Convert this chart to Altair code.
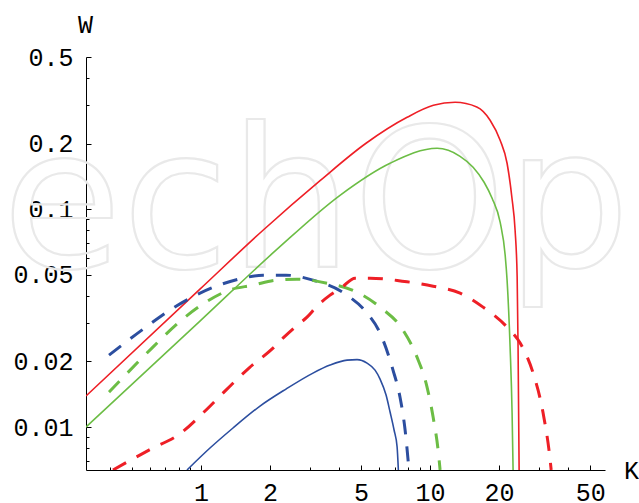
import altair as alt
import pandas as pd

# ---- axis ticks ----
x_major = [1, 2, 5, 10, 20, 50]
x_ticks = [0.4, 0.5, 0.6, 0.7, 0.8, 0.9, 1, 2, 3, 4, 5, 6, 7, 8, 9, 10, 20, 30, 40, 50]
y_major = [0.01, 0.02, 0.05, 0.1, 0.2, 0.5]
y_ticks = [0.007, 0.008, 0.009, 0.01, 0.02, 0.03, 0.04, 0.05, 0.06, 0.07, 0.08, 0.09,
           0.1, 0.2, 0.3, 0.4, 0.5]
x_domain = [0.315, 58]
y_domain = [0.00635, 0.5]

# ---- series (K, W) ----
red_solid_K = [0.315, 0.990, 1.866, 3.310, 5.254, 7.94, 10.34, 12.86, 15.99, 18.28,
               20.22, 21.68, 22.74, 23.50, 23.99, 24.21, 24.47]
red_solid_W = [0.01388, 0.04295, 0.0801, 0.1353, 0.2009, 0.2643, 0.2999, 0.3097,
               0.2946, 0.2561, 0.2073, 0.1626, 0.1138, 0.0801, 0.0488, 0.02328, 0.00635]

green_solid_K = [0.315, 0.990, 2.126, 4.045, 6.69, 10.73, 13.52, 15.41, 17.21, 18.65, 20.22,
                 21.27, 21.68, 22.35, 22.80, 23.03]
green_solid_W = [0.0100, 0.03063, 0.06485, 0.1159, 0.1626, 0.1905, 0.1750, 0.1559, 0.1330,
                 0.1123, 0.0872, 0.0615, 0.04725, 0.02328, 0.01159, 0.00635]

blue_solid_K = [0.869, 1.095, 1.380, 1.810, 2.350, 3.083, 3.660, 4.342, 4.80, 5.31, 5.752,
                6.05, 6.426, 6.69, 6.964, 7.18, 7.27]
blue_solid_W = [0.00635, 0.00801, 0.00990, 0.01248, 0.01494, 0.01769, 0.01925, 0.02029,
                0.02040, 0.01966, 0.01826, 0.01661, 0.01402, 0.01172, 0.00969, 0.00810, 0.00635]

blue_dash_K = [0.397, 0.575, 0.755, 0.951, 1.198, 1.525, 1.866, 2.350, 3.083, 4.342, 5.31,
               6.05, 6.89, 7.39, 7.78, 8.09]
blue_dash_W = [0.0214, 0.02875, 0.03515, 0.04032, 0.04481, 0.04826, 0.04981, 0.04981, 0.04725,
               0.04032, 0.03334, 0.02699, 0.01826, 0.01373, 0.00969, 0.00635]

green_dash_K = [0.397, 0.617, 0.802, 1.051, 1.325, 1.687, 2.126, 2.625, 3.55, 4.80, 6.05, 7.62,
                8.77, 9.70, 10.31, 10.84, 11.06]
green_dash_W = [0.01447, 0.02328, 0.03031, 0.03745, 0.0425, 0.04481, 0.04725, 0.04775, 0.04577,
                0.04162, 0.03553, 0.02786, 0.02095, 0.01526, 0.01111, 0.00784, 0.00635]

red_dash_K = [0.413, 0.593, 0.818, 1.031, 1.286, 1.620, 2.063, 2.304, 2.574, 2.903, 3.243, 3.660,
              4.128, 4.705, 5.47, 6.49, 7.55, 8.77, 10.31, 13.52, 17.03, 21.68, 24.72, 28.17,
              31.14, 33.42, 33.77]
red_dash_W = [0.00635, 0.00784, 0.00939, 0.01172, 0.01478, 0.01865, 0.02303, 0.02587, 0.02875,
              0.03196, 0.03628, 0.04032, 0.04387, 0.04826, 0.04826, 0.04775, 0.04675, 0.04577,
              0.04434, 0.0412, 0.03553, 0.02875, 0.02429, 0.01769, 0.01159, 0.00706, 0.00635]

solid_names = ["red solid", "green solid", "blue solid"]
dashed_names = ["blue dashed", "green dashed", "red dashed"]
solid_colors = ["#ee1f26", "#6cbd45", "#2c4e9f"]
dashed_colors = ["#2c4e9f", "#6cbd45", "#ee1f26"]


def make_df(names, data):
    rows = []
    for s, (ks, ws) in zip(names, data):
        for i, (k, w) in enumerate(zip(ks, ws)):
            rows.append({"series": s, "i": i, "K": k, "W": w})
    return pd.DataFrame(rows)


solid_df = make_df(solid_names, [(red_solid_K, red_solid_W), (green_solid_K, green_solid_W),
                                 (blue_solid_K, blue_solid_W)])
dashed_df = make_df(dashed_names, [(blue_dash_K, blue_dash_W), (green_dash_K, green_dash_W),
                                   (red_dash_K, red_dash_W)])

watermark_text = "echOp"

PW, PH = 519, 413
FONT = "Liberation Mono"
FS = 25

xs = alt.Scale(type="log", domain=x_domain, nice=False)
ys = alt.Scale(type="log", domain=y_domain, nice=False)

wm = alt.Chart(pd.DataFrame({"t": [watermark_text]})).mark_text(
    font="DejaVu Sans", fontSize=195, align="left", baseline="alphabetic",
    fillOpacity=0, stroke="#e9e9e9", strokeWidth=2.2
).encode(text="t:N", x=alt.value(-84), y=alt.value(210))

solid = alt.Chart(solid_df).mark_line(
    clip=True, interpolate="monotone", strokeWidth=1.6
).encode(
    x=alt.X("K:Q", scale=xs, axis=alt.Axis(
        orient="bottom", values=x_major, format="~g", ticks=False, tickSize=0, grid=False,
        domainColor="black", domainWidth=1, labelFont=FONT, labelFontSize=FS,
        labelColor="black", labelPadding=10, labelFlush=False, labelOverlap=False,
        title="K", titleFont=FONT, titleFontSize=FS, titleFontWeight="normal",
        titleColor="black", titleX=545, titleY=0, titleAlign="center",
        titleBaseline="middle")),
    y=alt.Y("W:Q", scale=ys, axis=alt.Axis(
        orient="left", values=y_major, format="~g", ticks=False, tickSize=0, grid=False,
        domainColor="black", domainWidth=1, labelFont=FONT, labelFontSize=FS,
        labelColor="black", labelPadding=13, labelFlush=False, labelOverlap=False,
        title="W", titleFont=FONT, titleFontSize=FS, titleFontWeight="normal",
        titleColor="black", titleAngle=0, titleX=-1, titleY=-33, titleAlign="center",
        titleBaseline="middle")),
    color=alt.Color("series:N", scale=alt.Scale(domain=solid_names, range=solid_colors),
                    legend=None),
    order="i:Q",
)

dashed = alt.Chart(dashed_df).mark_line(
    clip=True, interpolate="monotone", strokeWidth=3, strokeDash=[15, 12], strokeCap="butt"
).encode(
    x=alt.X("K:Q", scale=xs, axis=None),
    y=alt.Y("W:Q", scale=ys, axis=None),
    color=alt.Color("series:N", scale=alt.Scale(domain=dashed_names, range=dashed_colors),
                    legend=None),
    order="i:Q",
)

tick_layer = alt.Chart(solid_df).mark_point(opacity=0).encode(
    x=alt.X("K:Q", scale=xs, title=None, axis=alt.Axis(
        orient="top", offset=-PH, values=x_ticks, labels=False, domain=False, grid=False,
        tickColor="black", tickWidth=1,
        tickSize={"condition": {"test": "indexof([1,2,5,10,20,50], datum.value) >= 0",
                                "value": 5}, "value": 3})),
    y=alt.Y("W:Q", scale=ys, title=None, axis=alt.Axis(
        orient="right", offset=-PW, values=y_ticks, labels=False, domain=False, grid=False,
        tickColor="black", tickWidth=1,
        tickSize={"condition": {"test": "indexof([0.01,0.02,0.05,0.1,0.2,0.5], datum.value) >= 0",
                                "value": 5}, "value": 3})),
)

chart = alt.layer(wm, tick_layer, solid, dashed).resolve_axis(
    x="independent", y="independent"
).resolve_scale(color="independent").properties(
    width=PW, height=PH,
    padding={"left": 86, "top": 57, "right": 34, "bottom": 33},
    autosize=alt.AutoSizeParams(type="none"),
    background="white",
).configure_view(stroke="transparent")

chart.save("out.html", embed_options={"renderer": "svg", "actions": False})
